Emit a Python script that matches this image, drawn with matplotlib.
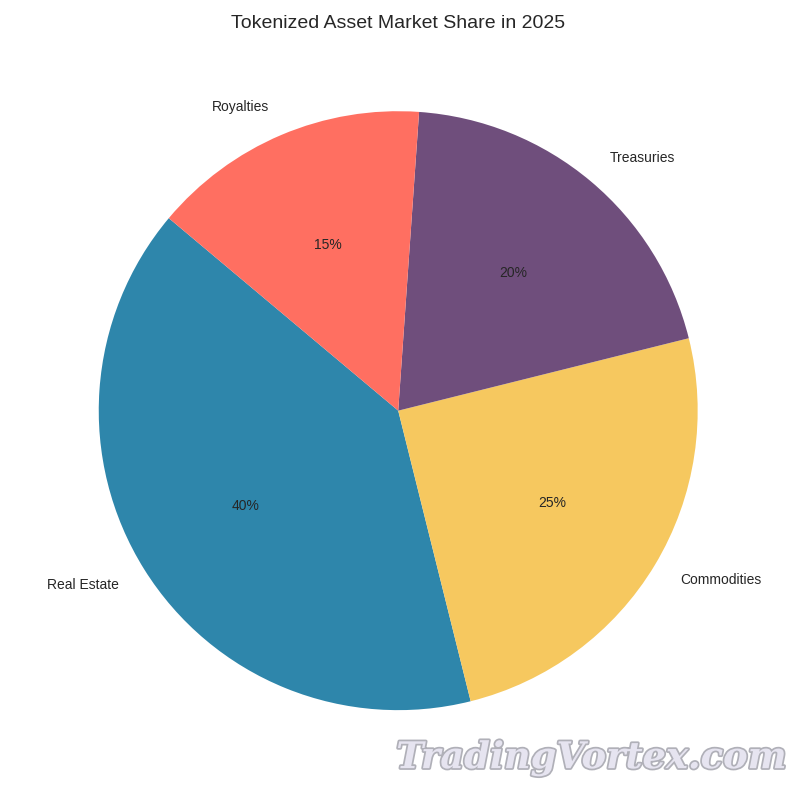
import matplotlib.pyplot as plt
import matplotlib.patheffects as pe

# dados do gráfico
categorias = ["Real Estate", "Commodities", "Treasuries", "Royalties"]
participacao = [40, 25, 20, 15]
cores = ["#2E86AB", "#F6C85F", "#6F4E7C", "#FF6F61"]

plt.style.use("seaborn-v0_8-whitegrid")
plt.rcParams["font.family"] = ["Liberation Sans", "DejaVu Sans"]

fig = plt.figure(figsize=(8, 8), dpi=100)
plt.pie(participacao, labels=categorias, colors=cores, autopct="%1.0f%%", startangle=140)
plt.title("Tokenized Asset Market Share in 2025", fontsize=14)
plt.tight_layout()

# marca d'água
fig.text(0.739, 0.052, "TradingVortex.com", fontsize=26.5, family="DejaVu Serif",
         style="italic", weight="bold", color="#E6E4F0", ha="center", va="center",
         path_effects=[pe.withStroke(linewidth=2.5, foreground="#B0B0B8")])

plt.savefig("out.png", dpi=100)
